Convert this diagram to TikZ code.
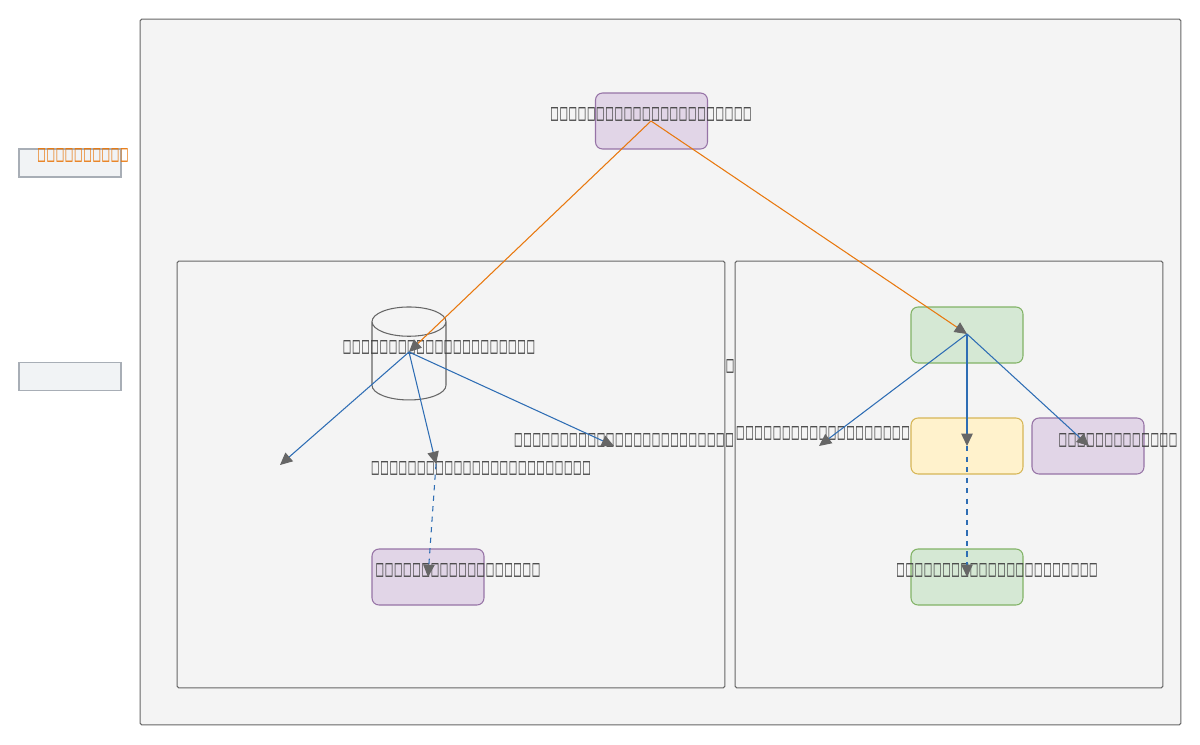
\documentclass[tikz,border=0pt]{standalone}
\usepackage{fontspec}
\setmainfont{DejaVu Sans}
\newfontfamily\tofufont[FakeStretch=0.5, LetterSpace=9.5]{DejaVu Sans Mono}
\usetikzlibrary{arrows.meta, shapes.geometric}
\definecolor{panelfill}{HTML}{F4F4F4}
\definecolor{panelline}{HTML}{666666}
\definecolor{legendfill}{HTML}{F1F3F5}
\definecolor{legendline}{HTML}{A8AEB6}
\definecolor{purplefill}{HTML}{E1D5E7}
\definecolor{purpleline}{HTML}{9673A6}
\definecolor{greenfill}{HTML}{D5E8D4}
\definecolor{greenline}{HTML}{82B366}
\definecolor{yellowfill}{HTML}{FFF2CC}
\definecolor{yellowline}{HTML}{D6B656}
\definecolor{wireorange}{HTML}{E8780E}
\definecolor{wireblue}{HTML}{2E6DB4}
\definecolor{tipgray}{HTML}{666666}
\definecolor{textgray}{HTML}{444444}
\tikzset{
    my-panel/.style={
        rectangle, draw=panelline, fill=panelfill, rounded corners=1pt, line width=0.6pt
    },
    my-legend/.style={
        rectangle, draw=legendline, fill=legendfill, line width=0.6pt,
        minimum width=2.04cm, minimum height=0.56cm
    },
    my-box/.style={
        rectangle, rounded corners=4pt, line width=0.6pt,
        minimum width=2.24cm, minimum height=1.12cm
    },
    my-purple-box/.style={my-box, draw=purpleline, fill=purplefill},
    my-green-box/.style={my-box, draw=greenline, fill=greenfill},
    my-yellow-box/.style={my-box, draw=yellowline, fill=yellowfill},
    my-text/.style={
        text=textgray, font=\tofufont\fontsize{13.2}{15}\selectfont, inner sep=0pt
    },
    my-orange-wire/.style={
        draw=wireorange, line width=0.6pt, -{Triangle[color=tipgray, length=7pt, width=6.5pt]}
    },
    my-blue-wire/.style={
        draw=wireblue, line width=0.6pt, -{Triangle[color=tipgray, length=7pt, width=6.5pt]}
    },
}

\begin{document}
\begin{tikzpicture}[x=0.02cm, y=-0.02cm]

        \useasboundingbox (0,0) rectangle (1200,744);

        % CONTAINERS
        \node[my-panel, minimum width=20.82cm, minimum height=14.12cm] (MAIN)  at (660.5,372)   {};
        \node[my-panel, minimum width=10.96cm, minimum height=8.54cm]  (LEFT)  at (451,474.5)   {};
        \node[my-panel, minimum width=8.56cm,  minimum height=8.54cm]  (RIGHT) at (949,474.5)   {};

        % LEGEND
        \node[my-legend]   (LEG1)    at (70,163)    {};
        \node[my-legend]   (LEG2)    at (70,376.5)  {};
        \node[my-text, text=wireorange] (LEG1T) at (83,155.5) {□□□□□□□□□□};

        % TOP
        \node[my-purple-box]  (TOP)     at (651.5,121)   {};
        \node[my-text]        (TOPT)    at (651,114)     {□□□□□□□□□□□□□□□□□□□□□□};
        \coordinate           (TOPC)    at (651,121);

        % LEFT GROUP
        \node[cylinder, shape border rotate=90, draw=panelline, fill=panelfill, line width=0.6pt,
              aspect=2.5, minimum width=1.48cm, minimum height=1.86cm] (DB) at (409,365) {};
        \node[my-text]        (DBT)     at (439,347)     {□□□□□□□□□□□□□□□□□□□□□};
        \coordinate           (DBC)     at (409,352);
        \coordinate           (LOUT1)   at (280,465);
        \coordinate           (LOUT2)   at (436,464);
        \coordinate           (LOUT3)   at (614,446);
        \node[my-text]        (LOUT2T)  at (481,468)     {□□□□□□□□□□□□□□□□□□□□□□□□};
        \node[my-text]        (LOUT3T)  at (624,440)     {□□□□□□□□□□□□□□□□□□□□□□□□};
        \node[my-purple-box]  (LBOT)    at (428,577)     {};
        \node[my-text]        (LBOTT)   at (458,570)     {□□□□□□□□□□□□□□□□□□};
        \coordinate           (LBOTC)   at (428,577);

        % RIGHT GROUP
        \node[my-text]        (MID)     at (730,366)     {□};
        \node[my-green-box]   (HUB)     at (967,335)     {};
        \coordinate           (HUBC)    at (967,334);
        \coordinate           (ROUT1)   at (819,446);
        \node[my-text]        (ROUT1T)  at (823,433)     {□□□□□□□□□□□□□□□□□□□};
        \node[my-yellow-box]  (MIDBOX)  at (967,446)     {};
        \coordinate           (MIDC)    at (967,446);
        \node[my-purple-box]  (SIDE)    at (1088,446)    {};
        \coordinate           (SIDEC)   at (1089,446);
        \node[my-text]        (SIDET)   at (1118,440)    {□□□□□□□□□□□□□};
        \node[my-green-box]   (RBOT)    at (967,577)     {};
        \node[my-text]        (RBOTT)   at (997,570)     {□□□□□□□□□□□□□□□□□□□□□□};
        \coordinate           (RBOTC)   at (967,577);

        % ORANGE CONNECTIONS
        \draw[my-orange-wire] (TOPC) -- (DBC);
        \draw[my-orange-wire] (TOPC) -- (HUBC);

        % BLUE CONNECTIONS
        \draw[my-blue-wire] (DBC) -- (LOUT1);
        \draw[my-blue-wire] (DBC) -- (LOUT2);
        \draw[my-blue-wire] (DBC) -- (LOUT3);
        \draw[my-blue-wire, dashed] (LOUT2) -- (LBOTC);
        \draw[my-blue-wire] (HUBC) -- (ROUT1);
        \draw[my-blue-wire] (HUBC) -- (MIDC);
        \draw[my-blue-wire] (HUBC) -- (SIDEC);
        \draw[my-blue-wire, dashed] (MIDC) -- (RBOTC);

    \end{tikzpicture}
\end{document}
